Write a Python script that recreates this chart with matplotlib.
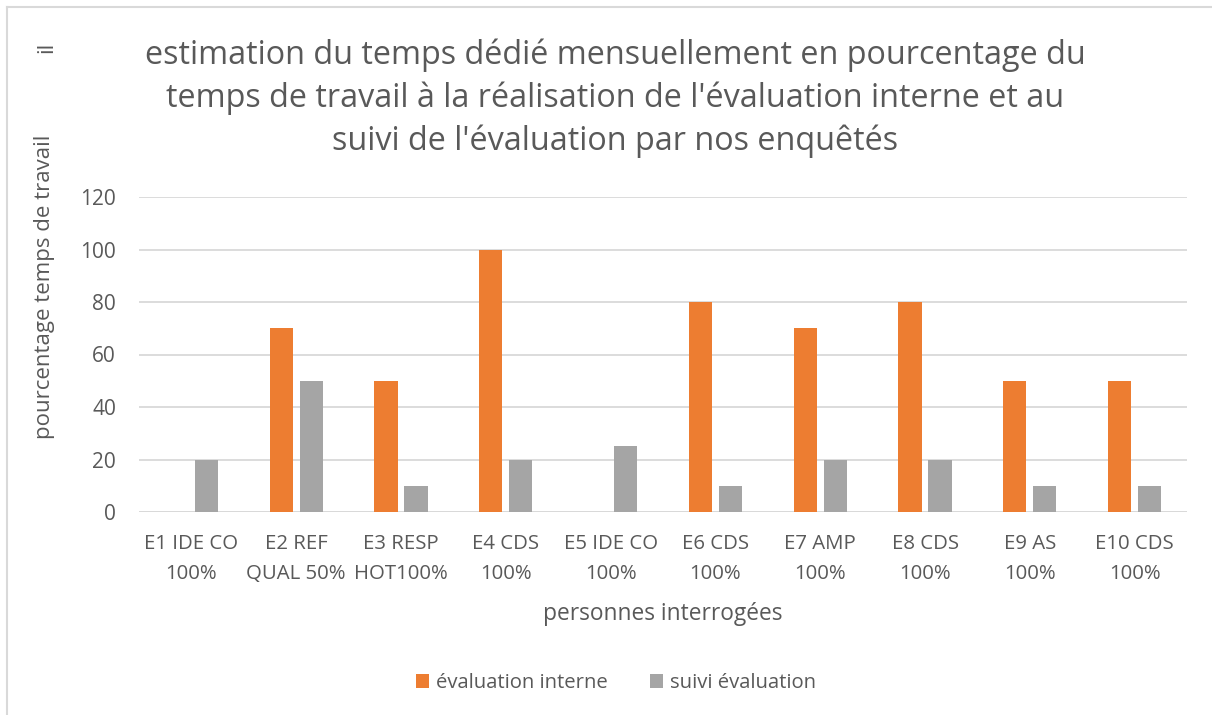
import matplotlib
matplotlib.use("Agg")
import matplotlib.pyplot as plt
import numpy as np
from matplotlib.lines import Line2D

categories = ["E1 IDE CO\n100%", "E2 REF\nQUAL 50%", "E3 RESP\nHOT100%", "E4 CDS\n100%",
              "E5 IDE CO\n100%", "E6 CDS\n100%", "E7 AMP\n100%", "E8 CDS\n100%",
              "E9 AS\n100%", "E10 CDS\n100%"]
eval_interne = [0, 70, 50, 100, 0, 80, 70, 80, 50, 50]
suivi_eval = [20, 50, 10, 20, 25, 10, 20, 20, 10, 10]
series_names = ["évaluation interne", "suivi évaluation"]
yticks = [0, 20, 40, 60, 80, 100, 120]

title = ("estimation du temps dédié mensuellement en pourcentage du\n"
         "temps de travail à la réalisation de l'évaluation interne et au\n"
         "suivi de l'évaluation par nos enquêtés")

plt.rcParams['font.family'] = ['Open Sans', 'DejaVu Sans']
txt = "#595959"
W, H = 1212, 715
fig = plt.figure(figsize=(W/100, H/100), dpi=100)

# border
fig.add_artist(Line2D([7/W, 7/W], [0, 1-7/H], color="#d9d9d9", lw=1.5, transform=fig.transFigure))
fig.add_artist(Line2D([7/W, 1], [1-7/H, 1-7/H], color="#d9d9d9", lw=1.5, transform=fig.transFigure))

left, right, top, bottom = 139, 1187, 197, 512
ax = fig.add_axes([left/W, 1-bottom/H, (right-left)/W, (bottom-top)/H])

x = np.arange(len(categories))
bw = 0.22
gap = 0.066
ax.bar(x - (bw+gap)/2, eval_interne, width=bw, color="#ed7d31", label=series_names[0], zorder=3)
ax.bar(x + (bw+gap)/2, suivi_eval, width=bw, color="#a5a5a5", label=series_names[1], zorder=3)

ax.set_xlim(-0.5, len(categories)-0.5)
ax.set_ylim(0, 120)
ax.set_yticks(yticks)
ax.yaxis.grid(True, color="#d9d9d9", lw=1.3, zorder=0)
for s in ax.spines.values():
    s.set_visible(False)
ax.axhline(0, color="#d9d9d9", lw=1.3, zorder=2)
ax.tick_params(axis='both', length=0, colors=txt)
ax.tick_params(axis='y', pad=16.5, labelsize=15)
ax.tick_params(axis='x', pad=16, labelsize=14.7)
ax.set_xticks(x)
ax.set_xticklabels(categories, linespacing=1.62)

fig.text(615/W, 1-98/H, title, ha='center', va='center', fontsize=23.3, color=txt, linespacing=1.38)
fig.text(45/W, 1-287/H, "pourcentage temps de travail", rotation=90, ha='center', va='center', fontsize=16, color=txt)
fig.text(47/W, 1-47/H, "il", rotation=90, ha='center', va='center', fontsize=16, color=txt)
fig.text(663/W, 1-614/H, "personnes interrogées", ha='center', va='center', fontsize=16.4, color=txt)

handles, labels = ax.get_legend_handles_labels()
fig.legend(handles, labels, loc='center', bbox_to_anchor=(616/W, 1-683/H), ncol=2, frameon=False,
           fontsize=14.6, labelcolor=txt, handlelength=0.65, handleheight=0.65, handletextpad=0.35,
           columnspacing=2.1)

fig.savefig("out.png", dpi=100, facecolor="white")
